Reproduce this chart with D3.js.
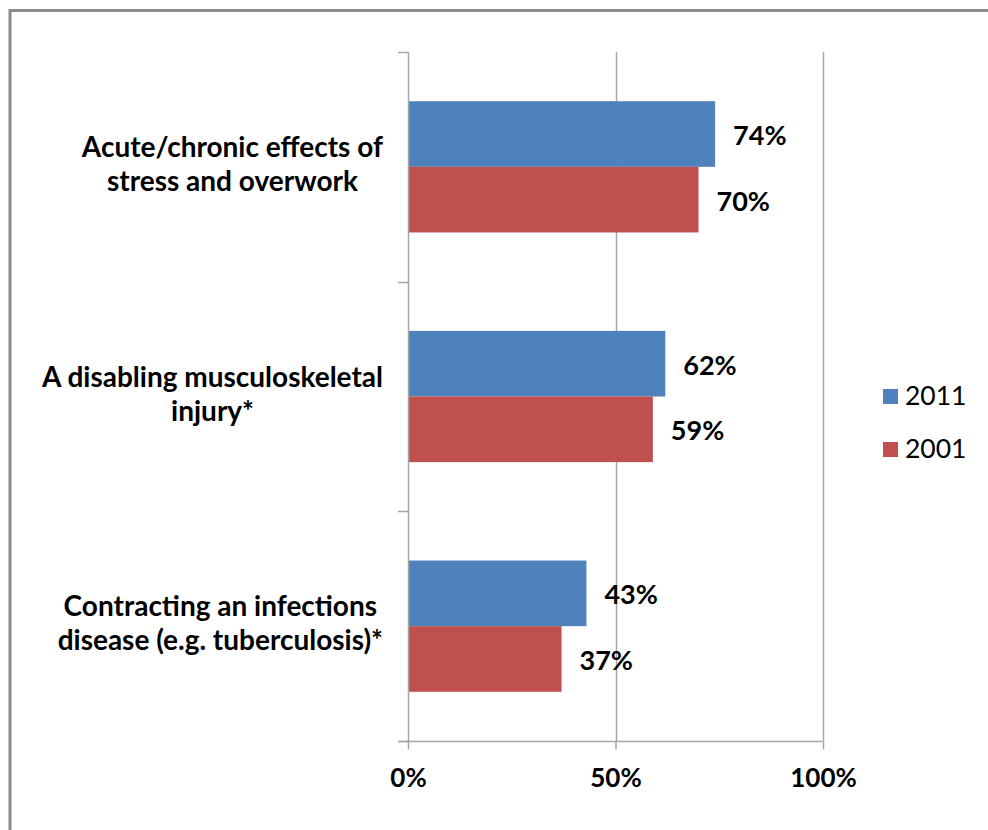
<!DOCTYPE html>
<html>
<head>
<meta charset="utf-8">
<script src="https://cdn.jsdelivr.net/npm/d3@7"></script>
<style>
  html, body { margin: 0; padding: 0; background: #fff; }
  svg { display: block; }
  text { font-family: Lato, "Open Sans", sans-serif; fill: #000; }
</style>
</head>
<body>
<svg id="chart" width="988" height="830"></svg>
<script>
// Risk categories, top to bottom; each label is split into its display lines
const categories = [
  "Acute/chronic effects of stress and overwork",
  "A disabling musculoskeletal injury*",
  "Contracting an infections disease (e.g. tuberculosis)*"
];
const categoryLines = [
  ["Acute/chronic effects of", "stress and overwork"],
  ["A disabling musculoskeletal", "injury*"],
  ["Contracting an infections", "disease (e.g. tuberculosis)*"]
];
const seriesNames = ["2011", "2001"];
const values2011 = [0.74, 0.62, 0.43];
const values2001 = [0.70, 0.59, 0.37];
const xTickValues = [0, 0.5, 1];
const seriesColors = ["#4F81BD", "#C0504D"];

const svg = d3.select("#chart");

// Outer chart frame
svg.append("rect")
  .attr("x", 10).attr("y", 10.5)
  .attr("width", 1000).attr("height", 840)
  .attr("fill", "none").attr("stroke", "#8c8c8c").attr("stroke-width", 3);

const plot = { left: 408, right: 823, top: 52, bottom: 741 };

const x = d3.scaleLinear().domain([0, 1]).range([plot.left, plot.right]);
const y0 = d3.scaleBand().domain(categories).range([plot.top, plot.bottom]).padding(0);
const y1 = d3.scaleBand().domain(seriesNames).range([0, y0.bandwidth()])
  .paddingInner(0).paddingOuter(0.75);

const gridColor = "#a6a6a6";

// Vertical gridlines
svg.append("g").selectAll("line")
  .data(xTickValues.filter(d => d > 0))
  .join("line")
  .attr("x1", d => Math.round(x(d)) + 0.5).attr("x2", d => Math.round(x(d)) + 0.5)
  .attr("y1", plot.top).attr("y2", plot.bottom)
  .attr("stroke", gridColor).attr("stroke-width", 1.5);

// Bars
const rows = categories.map((c, i) => ({
  cat: c,
  vals: [
    { s: seriesNames[0], v: values2011[i], color: seriesColors[0] },
    { s: seriesNames[1], v: values2001[i], color: seriesColors[1] }
  ]
}));

const groups = svg.append("g").selectAll("g")
  .data(rows).join("g")
  .attr("transform", d => `translate(0,${y0(d.cat)})`);

groups.selectAll("rect")
  .data(d => d.vals).join("rect")
  .attr("x", x(0))
  .attr("y", d => y1(d.s))
  .attr("width", d => x(d.v) - x(0))
  .attr("height", y1.bandwidth())
  .attr("fill", d => d.color);

// Value labels past the bar ends
groups.selectAll("text.val")
  .data(d => d.vals).join("text")
  .attr("class", "val")
  .attr("x", d => x(d.v) + 18)
  .attr("y", d => y1(d.s) + y1.bandwidth() / 2 + 11)
  .attr("font-size", 27).attr("font-weight", 700)
  .text(d => d3.format(".0%")(d.v));

// Category axis line with boundary ticks
const axisG = svg.append("g");
axisG.append("line")
  .attr("x1", plot.left + 0.5).attr("x2", plot.left + 0.5)
  .attr("y1", plot.top).attr("y2", plot.bottom)
  .attr("stroke", gridColor).attr("stroke-width", 1.5);
const bounds = categories.map(c => y0(c)).concat([plot.bottom]);
axisG.selectAll("line.tk").data(bounds).join("line")
  .attr("class", "tk")
  .attr("x1", plot.left - 10).attr("x2", plot.left)
  .attr("y1", d => Math.round(d) + 0.5).attr("y2", d => Math.round(d) + 0.5)
  .attr("stroke", gridColor).attr("stroke-width", 1.5);

// Value axis
const xAxis = d3.axisBottom(x)
  .tickValues(xTickValues)
  .tickFormat(d3.format(".0%"))
  .tickSize(8).tickSizeOuter(0).tickPadding(19);
const xg = svg.append("g")
  .attr("transform", `translate(0,${plot.bottom + 0.5})`)
  .call(xAxis);
xg.select(".domain").remove();
xg.append("line")
  .attr("x1", plot.left - 10).attr("x2", plot.right)
  .attr("stroke", gridColor).attr("stroke-width", 1.5);
xg.selectAll(".tick line").attr("stroke", gridColor).attr("stroke-width", 1.5);
xg.selectAll(".tick text")
  .attr("font-size", 26).attr("font-weight", 700)
  .attr("font-family", "Lato, sans-serif").attr("fill", "#000");

// Category labels: each block right-aligned near the axis, lines centred within it
const labelRight = 383;
categories.forEach((c, i) => {
  const cy = y0(c) + y0.bandwidth() / 2;
  const g = svg.append("g");
  const texts = categoryLines[i].map((line, j) =>
    g.append("text")
      .attr("font-size", 28).attr("font-weight", 700)
      .attr("text-anchor", "middle")
      .attr("y", cy + (j === 0 ? -10 : 24))
      .text(line));
  const maxW = d3.max(texts, t => t.node().getComputedTextLength());
  texts.forEach(t => t.attr("x", labelRight - maxW / 2));
});

// Legend
const legend = svg.append("g").attr("transform", "translate(883,389)");
seriesNames.forEach((s, i) => {
  const row = legend.append("g").attr("transform", `translate(0,${i * 53})`);
  row.append("rect").attr("width", 15).attr("height", 15).attr("fill", seriesColors[i]);
  row.append("text").attr("x", 22).attr("y", 16)
    .attr("font-size", 26.5).text(s);
});
</script>
</body>
</html>
